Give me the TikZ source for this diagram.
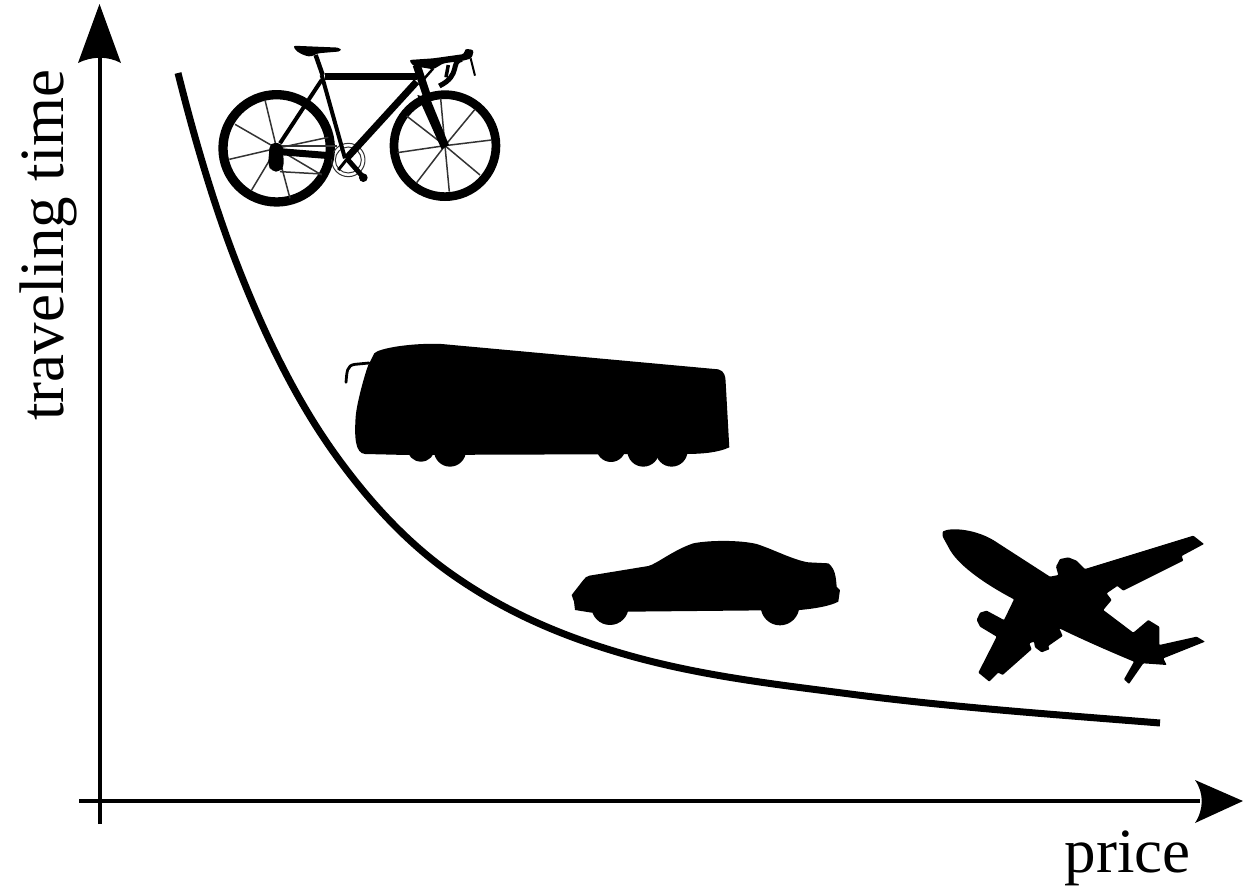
\documentclass[tikz,border=0pt]{standalone}
\usepackage{fontspec}
\setmainfont{Liberation Serif}
\tikzset{
  axisline/.style={line width=4.6pt,black},
  curveline/.style={line width=7pt,black},
  biglabel/.style={font=\fontsize{63}{63}\selectfont,inner sep=0pt},
  spoke/.style={line width=1.5pt,black!80},
  tube/.style={line width=#1,black},
  zoomA/.style={shift={(200,30)},x=0.3333pt,y=-0.3333pt},
  zoomB/.style={shift={(335,330)},x=0.3333pt,y=-0.3333pt},
  zoomC/.style={shift={(560,530)},x=0.3333pt,y=-0.3333pt},
  zoomD/.style={shift={(930,520)},x=0.3333pt,y=-0.3333pt},
}
\begin{document}
\begin{tikzpicture}[x=1pt,y=-1pt]
\useasboundingbox (0,0) rectangle (1243,887);
% axes
\coordinate (ybot) at (100,824);
\coordinate (ytop) at (100,50);
\coordinate (xleft) at (79,801);
\coordinate (xright) at (1200,801);
\draw[axisline] (ybot) -- (ytop);
\draw[axisline] (xleft) -- (xright);
\fill (99.5,4) -- (121,63) .. controls (108,56) and (92,56) .. (78,63) -- cycle;
\fill (1243,801) -- (1195,780) .. controls (1204,793) and (1204,809) .. (1195,823) -- cycle;
% curve
\draw[curveline] (178,73) .. controls (198,153) and (218,216) .. (238,267)
  .. controls (271,351.5) and (304,411.5) .. (337,457)
  .. controls (374.7,509) and (412.3,546.2) .. (450,573)
  .. controls (505.7,612.5) and (561.3,635.3) .. (617,652)
  .. controls (694.7,675.3) and (772.3,683.9) .. (850,694)
  .. controls (953,707.4) and (1057,714.7) .. (1160,723);
% labels
\node[biglabel,rotate=90,anchor=base west] (ylabel) at (63,421) {traveling time};
\node[biglabel,anchor=base east] (xlabel) at (1191,872) {price};
% bicycle
\begin{scope}[zoomA]
  \draw[line width=9.3pt] (230,355) circle[radius=161*0.3333pt];
  \draw[line width=8.7pt] (735,347) circle[radius=153*0.3333pt];
  \foreach \px/\py in {195/210,105/283,88/388,155/480,270/505,365/435,385/322}
    \draw[spoke] (230,355) -- (\px,\py);
  \draw[spoke] (245,348) -- (410,348);
  \draw[spoke] (240,425) -- (365,432);
  \foreach \px/\py in {722/205,825/238,875/330,840/435,748/485,650/458,592/368,620/258}
    \draw[spoke] (735,347) -- (\px,\py);
  % chainring
  \draw[line width=1pt,black!80] (445,390) circle[radius=50*0.3333pt];
  \draw[line width=1pt,black!80] (445,390) circle[radius=39*0.3333pt];
  % frame
  \draw[tube=6.5pt] (375,140) -- (650,140);
  \draw[tube=7pt] (650,155) -- (440,385);
  \draw[tube=4pt] (365,135) -- (435,385);
  \draw[tube=4pt] (365,150) -- (240,340);
  \draw[tube=7pt] (240,365) -- (400,378);
  \draw[tube=4.5pt] (347,75) -- (368,135);
  \draw[tube=5pt] (440,385) -- (490,442);
  \draw[tube=3pt] (443,385) -- (415,420);
  \fill (490,443) circle[radius=13*0.3333pt];
  \fill[rounded corners=3pt] (278,47) -- (420,53) -- (424,64) -- (352,70) -- (335,80) -- (318,78) -- (292,66) -- cycle;
  % fork and head tube
  \fill (652,195) -- (690,205) -- (747,345) -- (725,358) -- cycle;
  \draw[tube=8pt] (650,105) -- (680,195);
  \draw[tube=2.5pt] (700,115) -- (665,155);
  % handlebar
  \fill[rounded corners=2.5pt] (627,90) -- (700,85) -- (793,72) -- (795,56) -- (822,60) -- (815,85) -- (790,92) -- (730,100) -- (700,118) -- (640,108) -- cycle;
  \draw[tube=2pt] (812,85) -- (825,137);
  \draw[tube=3.5pt] (745,105) -- (738,142);
  \draw[tube=5pt] (785,88) .. controls (750,95) and (785,135) .. (718,168);
  % hub
  \fill[rounded corners=5pt] (210,338) -- (248,340) -- (252,410) -- (240,425) -- (215,425) -- (204,405) -- cycle;
\end{scope}
% bus
\begin{scope}[zoomB]
  \fill (118,70) .. controls (130,55) and (230,38) .. (320,42) -- (1150,118)
    .. controls (1168,122) and (1172,140) .. (1172,155) -- (1183,352)
    .. controls (1150,368) and (1100,372) .. (1050,372) -- (215,375) -- (90,372)
    .. controls (60,370) and (58,320) .. (62,260) .. controls (65,220) and (90,130) .. (100,105) -- cycle;
  \foreach \cx/\cy/\cr in {258/353/42,345/362/48,828/352/44,925/362/48,1010/362/48}
    \fill (\cx,\cy) circle[radius=\cr*0.3333pt];
  \draw[line width=2.8pt,line cap=round] (102,99) -- (60,103) .. controls (35,106) and (36,125) .. (33,157);
\end{scope}
% car
\begin{scope}[zoomC]
  \fill (35,195) -- (70,150) .. controls (75,142) and (80,140) .. (88,137) -- (265,108)
    .. controls (290,102) and (340,60) .. (400,40) .. controls (450,30) and (540,30) .. (590,42)
    .. controls (640,58) and (700,90) .. (745,97) -- (805,100) .. controls (825,115) and (828,140) .. (830,170)
    -- (840,180) -- (835,215) .. controls (810,228) and (770,235) .. (720,240) -- (205,245) -- (95,248)
    -- (45,240) -- (42,215) -- cycle;
  \fill (150,229) circle[radius=56*0.3333pt];
  \fill (660,228) circle[radius=58*0.3333pt];
\end{scope}
% plane
\begin{scope}[zoomD]
  \fill[rounded corners=0.8pt] (38,35) .. controls (60,22) and (140,25) .. (205,70) -- (360,170) -- (385,165) -- (378,140) -- (390,117) -- (415,112) -- (440,122) -- (465,147) -- (790,47) -- (822,72) -- (755,108) -- (760,122) -- (580,212) -- (562,198) -- (530,220) -- (545,240) -- (520,270) -- (610,338) -- (655,300) -- (688,320) -- (688,375) -- (800,350) -- (825,365) -- (700,415) -- (710,435) -- (640,430) -- (597,492) -- (582,478) -- (612,425) .. controls (540,395) and (460,360) .. (388,325) -- (398,348) -- (355,378) -- (358,388) -- (335,397) -- (315,382) -- (312,365) -- (298,370) -- (305,388) -- (218,465) -- (205,458) -- (178,485) -- (145,458) -- (200,350) -- (150,320) -- (140,300) -- (150,278) -- (170,272) -- (222,300) -- (252,238) .. controls (170,195) and (90,140) .. (60,90) -- (38,50) -- cycle;
\end{scope}
\end{tikzpicture}
\end{document}
